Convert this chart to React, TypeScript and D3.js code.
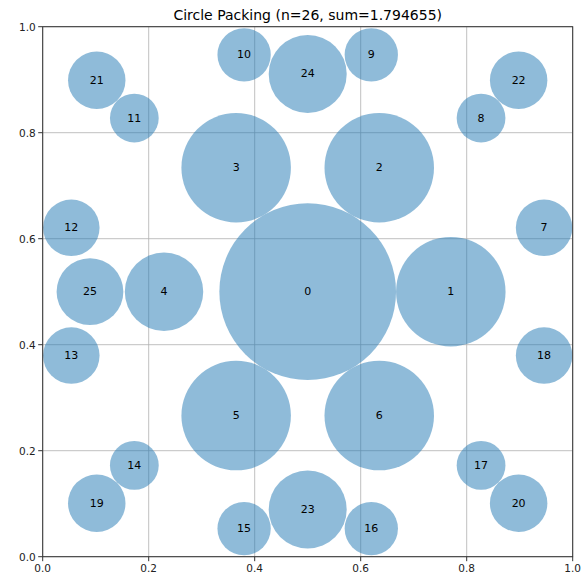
import React from "react";
import * as d3 from "d3";

const labels = ["0","1","2","3","4","5","6","7","8","9","10","11","12","13","14","15","16","17","18","19","20","21","22","23","24","25"];
const cx = [0.5, 0.770, 0.635, 0.365, 0.2289, 0.365, 0.635, 0.946, 0.8271, 0.620, 0.380, 0.1729, 0.054, 0.054, 0.1729, 0.380, 0.620, 0.8271, 0.946, 0.102, 0.898, 0.102, 0.898, 0.5, 0.5, 0.0892];
const cy = [0.5, 0.5, 0.7338, 0.7338, 0.5, 0.2662, 0.2662, 0.6206, 0.8277, 0.947, 0.947, 0.8277, 0.6206, 0.3794, 0.1723, 0.053, 0.053, 0.1723, 0.3794, 0.101, 0.101, 0.899, 0.899, 0.0892, 0.9108, 0.5];
const radii = [0.1667, 0.1033, 0.1033, 0.1033, 0.0740, 0.1033, 0.1033, 0.0533, 0.0460, 0.0503, 0.0503, 0.0460, 0.0533, 0.0533, 0.0460, 0.0503, 0.0503, 0.0460, 0.0533, 0.0542, 0.0542, 0.0542, 0.0542, 0.0736, 0.0736, 0.0630];
const ticks = [0, 0.2, 0.4, 0.6, 0.8, 1.0];
const title = "Circle Packing (n=26, sum=1.794655)";

const W = 586, H = 577;
const L = 42.7, T = 26.7, PW = 530, PH = 530;

export default function App() {
  const x = d3.scaleLinear().domain([0, 1]).range([L, L + PW]);
  const y = d3.scaleLinear().domain([0, 1]).range([T + PH, T]);
  const font = "DejaVu Sans, sans-serif";
  return (
    <svg width={W} height={H} style={{ position: "absolute", left: 0, top: 0, background: "#fff" }} fontFamily={font}>
      <defs>
        <clipPath id="plot"><rect x={L} y={T} width={PW} height={PH} /></clipPath>
      </defs>
      <rect x={0} y={0} width={W} height={H} fill="#fff" />
      {ticks.map((t) => (
        <g key={"g" + t}>
          <line x1={x(t)} x2={x(t)} y1={T} y2={T + PH} stroke="#b0b0b0" strokeWidth={0.8} />
          <line x1={L} x2={L + PW} y1={y(t)} y2={y(t)} stroke="#b0b0b0" strokeWidth={0.8} />
        </g>
      ))}
      <g clipPath="url(#plot)">
        {labels.map((l, i) => (
          <circle key={"c" + l} cx={x(cx[i])} cy={y(cy[i])} r={x(radii[i]) - x(0)} fill="#1f77b4" fillOpacity={0.5} />
        ))}
      </g>
      {labels.map((l, i) => (
        <text key={"t" + l} x={x(cx[i])} y={y(cy[i])} textAnchor="middle" dominantBaseline="central" fontSize={11} fill="#000">{l}</text>
      ))}
      <rect x={L} y={T} width={PW} height={PH} fill="none" stroke="#333" strokeWidth={1} />
      {ticks.map((t) => (
        <g key={"tk" + t}>
          <line x1={x(t)} x2={x(t)} y1={T + PH} y2={T + PH + 4.5} stroke="#333" strokeWidth={1} />
          <text x={x(t)} y={T + PH + 15} textAnchor="middle" fontSize={10.5} fill="#222">{t.toFixed(1)}</text>
          <line x1={L - 4.5} x2={L} y1={y(t)} y2={y(t)} stroke="#333" strokeWidth={1} />
          <text x={L - 7} y={y(t)} textAnchor="end" dominantBaseline="central" fontSize={10.5} fill="#222">{t.toFixed(1)}</text>
        </g>
      ))}
      <text x={L + PW / 2} y={T - 7} textAnchor="middle" fontSize={14} fill="#000">{title}</text>
    </svg>
  );
}
